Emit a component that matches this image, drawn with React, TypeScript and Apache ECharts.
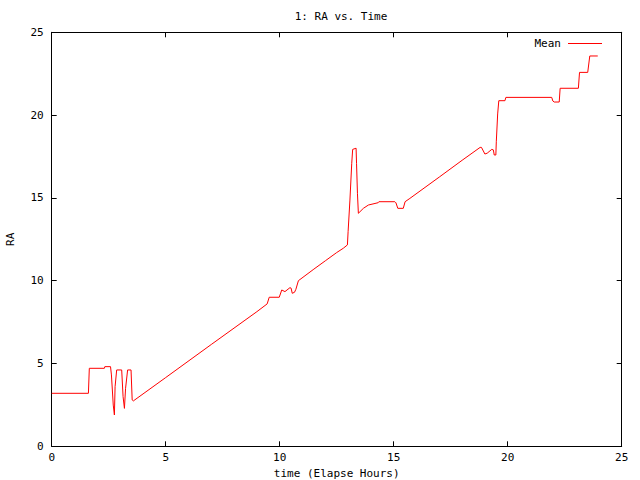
import * as echarts from 'echarts';
import { useEffect, useRef } from 'react';

// elapsed hours and the RA mean
const time = [
  0, 1.61, 1.65, 2.31, 2.33, 2.58, 2.62, 2.66, 2.7, 2.75, 2.78, 2.85, 3.07, 3.13, 3.19, 3.24,
  3.33, 3.48, 3.53, 3.58, 5.0, 7.0, 9.0, 9.45, 9.54, 9.98, 10.09, 10.23, 10.45, 10.5, 10.55,
  10.65, 10.71, 10.82, 11.5, 12.0, 12.5, 12.79, 12.97, 13.0, 13.08, 13.16, 13.2, 13.35, 13.37,
  13.41, 13.45, 13.67, 13.89, 14.32, 14.35, 15.05, 15.1, 15.18, 15.42, 15.5, 15.71, 17.0, 18.0,
  18.79, 18.85, 19.0, 19.1, 19.3, 19.37, 19.41, 19.48, 19.5, 19.56, 19.61, 19.88, 19.92, 21.93,
  21.98, 22.04, 22.26, 22.3, 23.1, 23.15, 23.51, 23.6, 23.95,
];
const ra = [
  3.2, 3.2, 4.71, 4.71, 4.81, 4.81, 4.31, 3.4, 2.49, 1.89, 3.6, 4.61, 4.61, 3.0, 2.29, 3.5,
  4.61, 4.61, 2.8, 2.74, 4.15, 6.15, 8.13, 8.6, 9.0, 9.0, 9.44, 9.34, 9.58, 9.55, 9.24,
  9.3, 9.48, 10.0, 10.7, 11.2, 11.7, 11.96, 12.16, 12.96, 14.87, 17.09, 17.93, 18.0, 17.09,
  15.28, 14.07, 14.37, 14.57, 14.71, 14.77, 14.77, 14.7, 14.37, 14.37, 14.77, 14.97, 16.26, 17.27,
  18.05, 18.05, 17.65, 17.7, 17.93, 17.9, 17.59, 17.59, 18.39, 20.07, 20.87, 20.87, 21.07, 21.07,
  20.85, 20.79, 20.79, 21.62, 21.62, 22.58, 22.58, 23.57, 23.57,
];
const xTicks = [0, 5, 10, 15, 20, 25];
const yTicks = [0, 5, 10, 15, 20, 25];

const font = 'DejaVu Sans Mono';

export default function App() {
  const ref = useRef<HTMLDivElement>(null);

  useEffect(() => {
    document.body.style.margin = '0';
    if (!ref.current) return;
    const chart = echarts.init(ref.current, null, { renderer: 'svg' });

    const axisLine = { show: true, onZero: false, lineStyle: { color: '#000', width: 1 } };
    const tick = { show: true, inside: true, length: 5, lineStyle: { color: '#000' } };

    chart.setOption({
      animation: false,
      backgroundColor: '#fff',
      textStyle: { fontFamily: font },
      title: {
        text: '1: RA vs. Time',
        left: 336,
        top: 6,
        textAlign: 'center',
        textStyle: { fontFamily: font, fontSize: 11, fontWeight: 'normal', color: '#000' },
      },
      legend: {
        data: ['Mean'],
        right: 33,
        top: 33,
        align: 'right',
        icon: 'rect',
        itemWidth: 34,
        itemHeight: 1,
        textStyle: { fontFamily: font, fontSize: 11, color: '#000', padding: [0, 2, 0, 0] },
      },
      grid: { left: 51.7, right: 18.3, top: 32.3, bottom: 33.7, outerBoundsMode: 'none', containLabel: false },
      xAxis: [
        {
          type: 'value',
          min: xTicks[0],
          max: xTicks[xTicks.length - 1],
          interval: 5,
          name: 'time (Elapse Hours)',
          nameLocation: 'middle',
          nameGap: 22,
          nameTextStyle: { fontFamily: font, fontSize: 11, color: '#000' },
          axisLine,
          axisTick: tick,
          axisLabel: { fontFamily: font, fontSize: 11, color: '#000', margin: 6 },
          splitLine: { show: false },
        },
        {
          type: 'value',
          position: 'top',
          min: xTicks[0],
          max: xTicks[xTicks.length - 1],
          interval: 5,
          axisLine,
          axisTick: tick,
          axisLabel: { show: false },
          splitLine: { show: false },
        },
      ],
      yAxis: [
        {
          type: 'value',
          min: yTicks[0],
          max: yTicks[yTicks.length - 1],
          interval: 5,
          name: 'RA',
          nameLocation: 'middle',
          nameGap: 36,
          nameTextStyle: { fontFamily: font, fontSize: 11, color: '#000' },
          axisLine,
          axisTick: tick,
          axisLabel: { fontFamily: font, fontSize: 11, color: '#000', margin: 8 },
          splitLine: { show: false },
        },
        {
          type: 'value',
          position: 'right',
          min: yTicks[0],
          max: yTicks[yTicks.length - 1],
          interval: 5,
          axisLine,
          axisTick: tick,
          axisLabel: { show: false },
          splitLine: { show: false },
        },
      ],
      series: [
        {
          name: 'Mean',
          type: 'line',
          data: time.map((t, i) => [t, ra[i]]),
          showSymbol: false,
          symbol: 'none',
          color: '#ff0000',
          lineStyle: { color: '#ff0000', width: 1 },
        },
      ],
    });

    return () => chart.dispose();
  }, []);

  return <div ref={ref} style={{ width: 640, height: 480 }} />;
}
